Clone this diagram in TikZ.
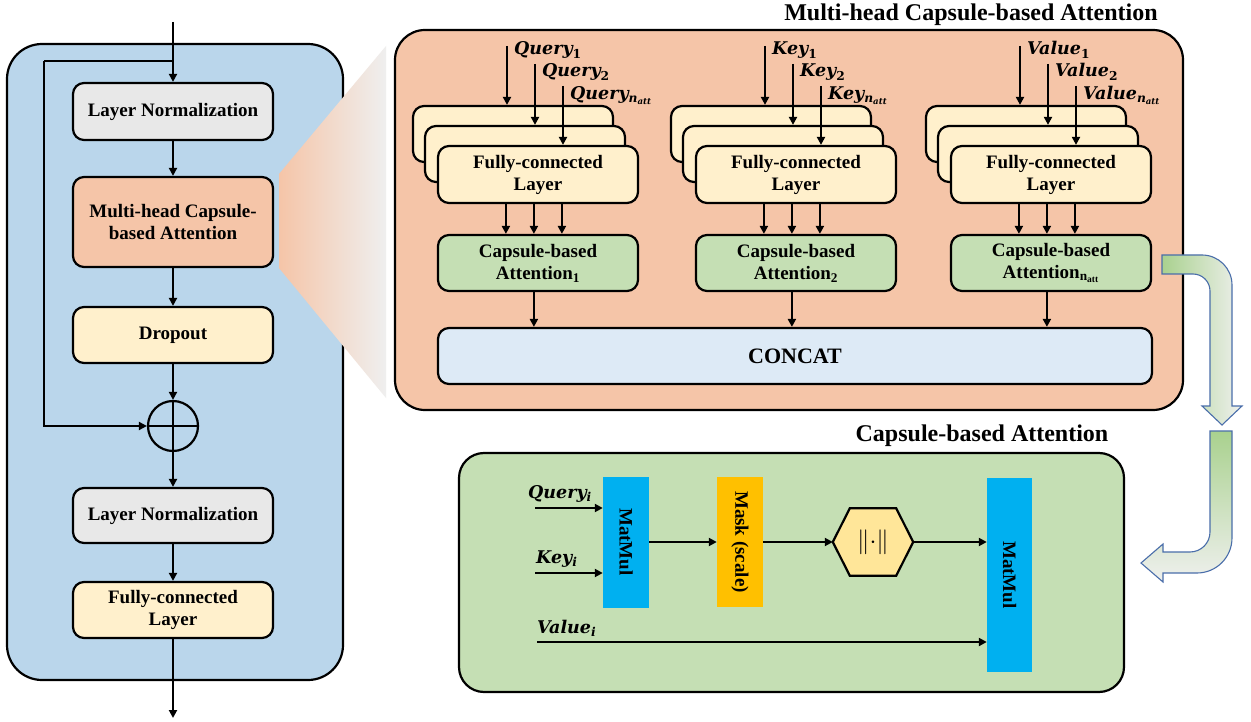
\documentclass[tikz,border=0pt]{standalone}
\usepackage{fontspec}
\setmainfont{Liberation Serif}
\newfontfamily\labfont{DejaVu Serif}
\usepackage{amsmath}
\usetikzlibrary{arrows.meta}
\definecolor{panelblue}{HTML}{BAD6EB}
\definecolor{peach}{HTML}{F5C5A8}
\definecolor{lyellow}{HTML}{FFF0CC}
\definecolor{lgray}{HTML}{E8E8E8}
\definecolor{lgreen}{HTML}{C5DFB4}
\definecolor{concatblue}{HTML}{DDEAF6}
\definecolor{cyanbox}{HTML}{00B0F0}
\definecolor{orangebox}{HTML}{FFC000}
\definecolor{hexfill}{HTML}{FFE699}
\definecolor{arrowblue}{HTML}{4A6EAA}
\definecolor{agreen}{HTML}{A9D18E}
\definecolor{amid}{HTML}{E2E9DC}
\definecolor{afade}{HTML}{EFF0EE}
\definecolor{fangray}{HTML}{EFEFEF}
\newcommand{\lbl}[2]{{\labfont\bfseries\itshape #1\textsubscript{#2}}}
\begin{document}
\begin{tikzpicture}[x=1pt,y=-1pt,
  arr/.style={line width=2pt,-{Triangle[length=8pt,width=8pt]}},
  plain/.style={line width=2pt},
  box/.style={draw, line width=2.2pt, rounded corners=11pt, inner sep=0pt, align=center,
    font=\fontsize{19}{22}\selectfont\bfseries, minimum width=200pt},
  panel/.style={draw, line width=2.2pt, inner sep=0pt},
  flat/.style={inner sep=0pt, font=\fontsize{19}{22}\selectfont\bfseries},
  lab/.style={inner sep=0pt, anchor=base west, font=\fontsize{17.5}{20}\selectfont},
  ttl/.style={font=\fontsize{24}{28}\selectfont\bfseries, inner sep=0pt},
  blockarrow/.style={draw=arrowblue, line width=1.1pt}
]
\useasboundingbox (0,0) rectangle (1251,722);
\fill[white] (0,0) rectangle (1251,722);

% ---------- left panel ----------
\node[panel, fill=panelblue, rounded corners=35pt, minimum width=336pt, minimum height=636pt] (leftpanel) at (175,362) {};
\shade[left color=peach, right color=fangray] (279,174) -- (386,46) -- (386,398) -- (279,268) -- cycle;

\node[box, fill=lgray, minimum height=57pt] (ln1) at (173,111.5) {Layer Normalization};
\node[box, fill=peach, minimum height=90pt] (mhca) at (173,222) {Multi-head Capsule-\\based Attention};
\node[box, fill=lyellow, minimum height=56pt] (drop) at (173,335) {Dropout};
\node[draw, circle, line width=2.2pt, minimum size=50pt, inner sep=0pt] (plus) at (173,426) {};
\node[box, fill=lgray, minimum height=55pt] (ln2) at (173,515.5) {Layer Normalization};
\node[box, fill=lyellow, minimum height=56pt] (fcl) at (173,610) {Fully-connected\\Layer};

\coordinate (inp) at (173,22);
\coordinate (split) at (173,61);
\coordinate (loopc) at (44,61);
\coordinate (outp) at (173,718);
\draw[arr] (inp) -- (ln1.north);
\draw[plain] (split) -- (loopc);
\draw[arr] (loopc) |- (plus.west);
\draw[arr] (ln1.south) -- (mhca.north);
\draw[arr] (mhca.south) -- (drop.north);
\draw[arr] (drop.south) -- (plus.north);
\draw[plain] (plus.north) -- (plus.south);
\draw[plain] (plus.west) -- (plus.east);
\draw[arr] (plus.south) -- (ln2.north);
\draw[arr] (ln2.south) -- (fcl.north);
\draw[arr] (fcl.south) -- (outp);

% ---------- multi-head panel ----------
\node[panel, fill=peach, rounded corners=30pt, minimum width=788pt, minimum height=380pt] (mhpanel) at (789,220) {};
\node[ttl] (mhtitle) at (971,15) {Multi-head Capsule-based Attention};
\node[box, fill=concatblue, minimum width=714pt, minimum height=56pt, font=\fontsize{22}{26}\selectfont\bfseries] (concat) at (795,356) {CONCAT};

\foreach \g/\X/\nm/\sub in {q/438/Query/1, k/696/Key/2, v/951/Value/{n_{att}}} {
  \node[box, fill=lyellow, minimum height=56pt] (back\g) at (\X+75,134) {};
  \node[box, fill=lyellow, minimum height=56pt] (mid\g) at (\X+87,154) {};
  \node[box, fill=lyellow, minimum height=57pt] (fc\g) at (\X+100,174.5) {Fully-connected\\Layer};
  \node[box, fill=lgreen, minimum height=56pt] (cap\g) at (\X+100,263) {Capsule-based\\Attention$_{\mathbf{\sub}}$};
  \coordinate (ia\g) at (\X+69,46);
  \coordinate (ib\g) at (\X+97,64);
  \coordinate (ic\g) at (\X+125,86);
  \draw[arr] (ia\g) -- (ia\g |- back\g.north);
  \draw[arr] (ib\g) -- (ib\g |- mid\g.north);
  \draw[arr] (ic\g) -- (ic\g |- fc\g.north);
  \node[lab] (la\g) at (\X+76,55) {\lbl{\nm}{\upshape 1}};
  \node[lab] (lb\g) at (\X+104,77) {\lbl{\nm}{\upshape 2}};
  \node[lab] (lc\g) at (\X+132,100) {\lbl{\nm}{n\textsubscript{att}}};
  \draw[arr] ([xshift=69pt]fc\g.south west) -- ([xshift=69pt]cap\g.north west);
  \draw[arr] ([xshift=97pt]fc\g.south west) -- ([xshift=97pt]cap\g.north west);
  \draw[arr] ([xshift=125pt]fc\g.south west) -- ([xshift=125pt]cap\g.north west);
  \draw[arr] ([xshift=97pt]cap\g.south west) -- ([xshift=97pt]cap\g.south west |- concat.north);
}

% ---------- capsule-based attention panel ----------
\node[panel, fill=lgreen, rounded corners=25pt, minimum width=665pt, minimum height=239pt] (cappanel) at (791.5,572.5) {};
\node[ttl] (captitle) at (982,436) {Capsule-based Attention};

\node[flat, fill=cyanbox, minimum width=46pt, minimum height=131pt] (mm1) at (626,542) {\rotatebox{-90}{MatMul}};
\node[flat, fill=orangebox, minimum width=46pt, minimum height=130pt] (mask) at (740,542) {\rotatebox{-90}{Mask (scale)}};
\node[inner sep=0pt, minimum width=80pt, minimum height=67pt] (hex) at (873,542) {};
\draw[line width=2.2pt, fill=hexfill] (hex.west) -- ([xshift=17pt]hex.north west) -- ([xshift=-17pt]hex.north east) -- (hex.east) -- ([xshift=-17pt]hex.south east) -- ([xshift=17pt]hex.south west) -- cycle;
\node[inner sep=0pt, font=\fontsize{25}{28}\selectfont] (hextext) at (hex.center) {$\|{\cdot}\|$};
\node[flat, fill=cyanbox, minimum width=45pt, minimum height=194pt] (mm2) at (1009.5,575) {\rotatebox{-90}{MatMul}};

\coordinate (qi) at (535,508);
\coordinate (ki) at (535,573);
\coordinate (vi) at (537,642);
\draw[arr] (qi) -- (qi -| mm1.west);
\draw[arr] (ki) -- (ki -| mm1.west);
\draw[arr] (vi) -- (vi -| mm2.west);
\draw[arr] (mm1.east) -- (mask.west);
\draw[arr] (mask.east) -- (hex.west);
\draw[arr] (hex.east) -- (hex.east -| mm2.west);
\node[lab] (qil) at (528,498) {\lbl{Query}{i}};
\node[lab] (kil) at (536,563) {\lbl{Key}{i}};
\node[lab] (vil) at (537,633) {\lbl{Value}{i}};

% ---------- block arrows ----------
\shadedraw[blockarrow, left color=agreen, middle color=amid, right color=afade]
  (1162,255) -- (1202,255) arc[start angle=-90, end angle=0, radius=30] -- (1232,406) -- (1242,406) -- (1222,425) -- (1202,406) -- (1210,406) -- (1210,291) arc[start angle=0, end angle=-90, radius=17] -- (1162,274) -- cycle;
\shadedraw[blockarrow, top color=agreen, middle color=amid, bottom color=afade]
  (1210,431) -- (1232,431) -- (1232,538) arc[start angle=0, end angle=90, radius=35] -- (1163,573) -- (1163,582) -- (1141,563) -- (1163,544) -- (1163,552) -- (1190,552) arc[start angle=90, end angle=0, radius=20] -- cycle;
\end{tikzpicture}
\end{document}
